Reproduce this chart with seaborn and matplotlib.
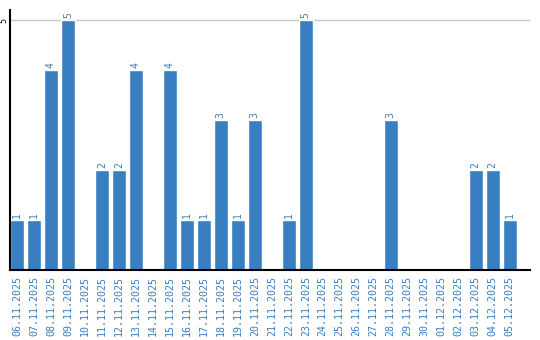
import matplotlib
matplotlib.use("Agg")
import matplotlib.pyplot as plt
import seaborn as sns
import pandas as pd

dates = ["06.11.2025", "07.11.2025", "08.11.2025", "09.11.2025", "10.11.2025",
         "11.11.2025", "12.11.2025", "13.11.2025", "14.11.2025", "15.11.2025",
         "16.11.2025", "17.11.2025", "18.11.2025", "19.11.2025", "20.11.2025",
         "21.11.2025", "22.11.2025", "23.11.2025", "24.11.2025", "25.11.2025",
         "26.11.2025", "27.11.2025", "28.11.2025", "29.11.2025", "30.11.2025",
         "01.12.2025", "02.12.2025", "03.12.2025", "04.12.2025", "05.12.2025"]
counts = [1, 1, 4, 5, 0, 2, 2, 4, 0, 4, 1, 1, 3, 1, 3, 0, 1, 5, 0, 0, 0, 0, 3, 0, 0, 0, 0, 2, 2, 1]

BLUE = "#3a7ec2"

sns.set_theme(style="white")
plt.rcParams['font.family'] = ['DejaVu Sans Mono', 'DejaVu Sans']

df = pd.DataFrame({"date": dates, "count": counts})

fig = plt.figure(figsize=(5.4, 3.4), dpi=100)
ax = fig.add_axes([10/540, 70/340, 520/540, 260/340])
sns.barplot(data=df, x="date", y="count", color=BLUE, saturation=1, width=0.82, ax=ax)

for i, v in enumerate(counts):
    if v > 0:
        ax.text(i, v + 0.04, str(v), rotation=90, ha="center", va="bottom",
                color=BLUE, fontsize=7)

ax.set_xlim(-0.41, 30.2)
ax.set_ylim(0, 5.2)
ax.set_yticks([5])
ax.set_yticklabels(["5"], rotation=90, va="center", fontsize=6, color="black")
ax.tick_params(axis="y", length=0, pad=1)
ax.yaxis.grid(True, color="#c8c8c8", linewidth=1)
ax.set_axisbelow(True)
ax.tick_params(axis="x", length=0, pad=4, labelrotation=90, labelsize=7.2, labelcolor=BLUE)
ax.set_xlabel("")
ax.set_ylabel("")
for s in ["top", "right"]:
    ax.spines[s].set_visible(False)
for s in ["left", "bottom"]:
    ax.spines[s].set_visible(True)
    ax.spines[s].set_color("black")
    ax.spines[s].set_linewidth(1.5)

fig.savefig("out.png", dpi=100)
